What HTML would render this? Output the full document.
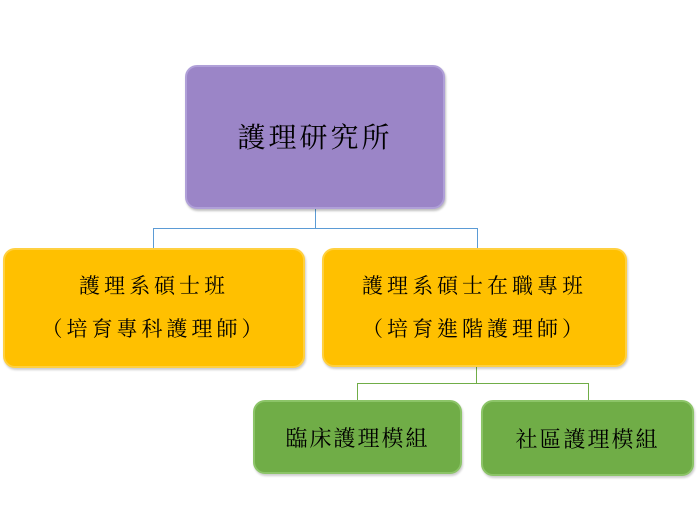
<!DOCTYPE html>
<html><head><meta charset="utf-8"><style>
body{margin:0;width:700px;height:510px;background:#fff;position:relative;overflow:hidden;font-family:"Liberation Serif","Noto Serif CJK TC","Noto Serif CJK SC",serif;}
.b{position:absolute;border-radius:12px;display:flex;flex-direction:column;align-items:center;justify-content:center;color:#000;box-sizing:border-box;}
.p{background:#9b85c7;border:2px solid #b0a0d8;box-shadow:1px 2px 2px rgba(0,0,0,.25);}
.y{background:#ffc000;border:2px solid #ffd040;box-shadow:1px 2px 2px rgba(0,0,0,.2);}
.g{background:#70ad47;border:2px solid #8cc468;box-shadow:1px 2px 2px rgba(0,0,0,.2);}
.l{position:absolute;}
</style></head><body>
<div class="l" style="left:315px;top:209px;width:1px;height:20px;background:#5b9bd5"></div>
<div class="l" style="left:153px;top:228px;width:325px;height:1px;background:#5b9bd5"></div>
<div class="l" style="left:153px;top:228px;width:1px;height:20px;background:#5b9bd5"></div>
<div class="l" style="left:477px;top:228px;width:1px;height:20px;background:#5b9bd5"></div>
<div class="l" style="left:476px;top:367px;width:1px;height:16px;background:#70ad47"></div>
<div class="l" style="left:357px;top:383px;width:232px;height:1px;background:#70ad47"></div>
<div class="l" style="left:357px;top:383px;width:1px;height:17px;background:#70ad47"></div>
<div class="l" style="left:588px;top:383px;width:1px;height:17px;background:#70ad47"></div>

<div class="b p" style="left:185px;top:65px;width:260px;height:144px;font-size:28px;letter-spacing:3px;padding-bottom:2px">護理研究所</div>
<div class="b y" style="left:3px;top:248px;width:302px;height:120px;font-size:21px;letter-spacing:4px;line-height:43px">
<div>護理系碩士班</div><div>（培育專科護理師）</div></div>
<div class="b y" style="left:322px;top:248px;width:305px;height:119px;font-size:21px;letter-spacing:4px;line-height:43px">
<div>護理系碩士在職專班</div><div>（培育進階護理師）</div></div>
<div class="b g" style="left:253px;top:400px;width:209px;height:74px;font-size:22px;letter-spacing:2px">臨床護理模組</div>
<div class="b g" style="left:481px;top:400px;width:213px;height:76px;font-size:22px;letter-spacing:2px">社區護理模組</div>
</body></html>
